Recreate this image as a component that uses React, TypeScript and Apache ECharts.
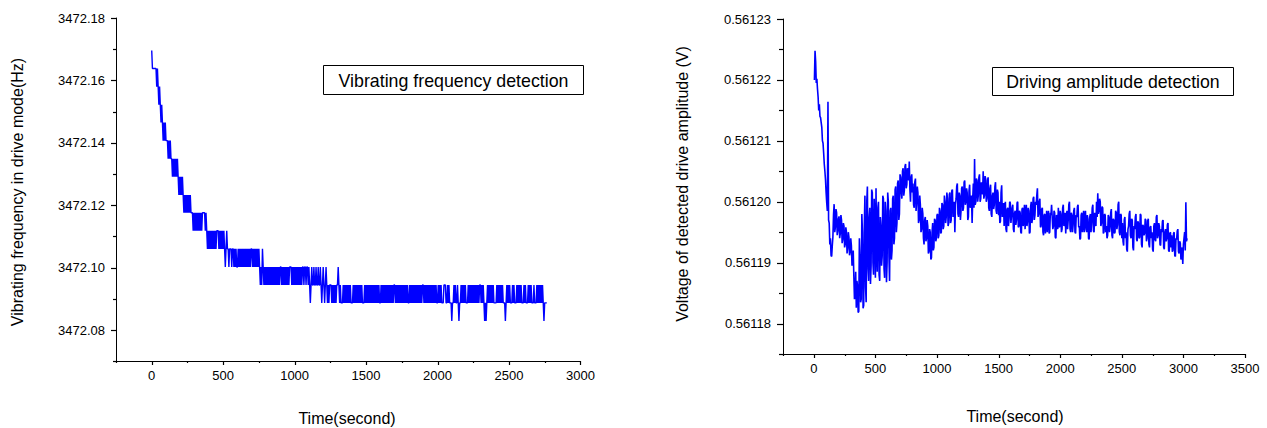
import React, { useEffect, useRef } from "react";
import * as echarts from "echarts";

// ---------- Left chart: vibrating frequency (quantized levels, Hz) ----------
const FREQ_LEVELS = [
  3472.1696, 3472.1638, 3472.158, 3472.1522, 3472.1465, 3472.1407, 3472.1349, 3472.1291,
  3472.1233, 3472.1176, 3472.1118, 3472.106, 3472.1002, 3472.0944, 3472.0887, 3472.0829,
];
const FREQ_STEP_S = 5;
// [block start time (s), level index per sample (hex), one sample every 5 s]
const FREQ_BLOCKS: [number, string][] = [
  [0, "0111111212 3234345454"],
  [100, "5556565667 6767676787"],
  [200, "8787898989 89898999a9"],
  [300, "a9a9a9a9a9 a9999a9aba"],
  [400, "bababababa baaabababa"],
  [500, "babcbabbcb bbcbbcbcbc"],
  [600, "cbcbcbcbcb cbcbcbcbcb"],
  [700, "bcbcbcbcbc bcdcdbcdcd"],
  [800, "cdcdcdcdcd cdcdcdcdcd"],
  [900, "ccdcdcdcdc dcdcccdcdc"],
  [1000, "dcdcdcdcdc dccdccdccd"],
  [1100, "cdedcddcdd cddcddcded"],
  [1200, "cdedcdeded ddedededed"],
  [1300, "dcdedeeede dedededede"],
  [1400, "eedededede dededeeede"],
  [1500, "dedededede dedededede"],
  [1600, "ededededed ededededed"],
  [1700, "dedededede dedededede"],
  [1800, "ededededed ededededed"],
  [1900, "dedededede dedededede"],
  [2000, "edededeeed ddeededeee"],
  [2100, "feededeede feedededed"],
  [2200, "eeedededed ededededed"],
  [2300, "dededefefe dedededede"],
  [2400, "eeedededed edeeefeded"],
  [2500, "edeeededee ededededee"],
  [2600, "ededeeeded edeeedeeed"],
  [2700, "ededededef eeee"],
];

// ---------- Right chart: drive amplitude (V) ----------
const AMP_BASE = 0.56118;
const AMP_UNIT = 1e-7; // values below are in units of 0.1 µV above AMP_BASE
const AMP_STEP_S = 5;
// [block start time (s), one value every 5 s]
const AMP_BLOCKS: [number, number[]][] = [
  [5, [400, 448, 430, 395, 402, 385, 372, 350, 360, 340, 338, 330, 322, 300, 296, 280, 262, 250, 236, 215]],
  [105, [198, 185, 364, 170, 165, 130, 140, 112, 110, 128, 142, 178, 196, 150, 158, 188, 182, 145, 152, 172]],
  [205, [176, 140, 148, 178, 170, 132, 138, 165, 160, 125, 130, 158, 150, 115, 124, 150, 142, 112, 118, 140]],
  [305, [128, 95, 100, 120, 78, 40, 48, 85, 26, 70, 62, 18, 20, 140, 110, 35, 40, 180, 150, 25]],
  [405, [30, 160, 210, 60, 35, 200, 225, 90, 70, 175, 190, 65, 95, 220, 215, 100, 80, 205, 170, 75]],
  [505, [222, 120, 85, 190, 200, 80, 70, 175, 160, 95, 110, 210, 205, 90, 75, 200, 185, 68, 100, 215]],
  [605, [200, 110, 70, 185, 190, 105, 120, 205, 210, 130, 140, 220, 225, 150, 165, 230, 235, 170, 180, 245]],
  [705, [240, 215, 205, 250, 255, 210, 218, 258, 262, 222, 228, 255, 250, 235, 266, 220, 200, 240, 245, 215]],
  [805, [230, 195, 190, 232, 238, 185, 200, 225, 215, 165, 170, 210, 195, 150, 155, 190, 180, 140, 130, 170]],
  [905, [175, 135, 140, 170, 160, 115, 118, 155, 150, 105, 108, 150, 165, 120, 125, 172, 170, 135, 140, 178]],
  [1005, [180, 140, 145, 190, 185, 148, 150, 198, 195, 155, 160, 210, 200, 165, 175, 215, 205, 160, 165, 212]],
  [1105, [215, 165, 170, 218, 220, 175, 180, 200, 150, 195, 205, 225, 230, 180, 175, 215, 210, 170, 185, 222]],
  [1205, [225, 185, 190, 232, 235, 195, 200, 222, 215, 170, 175, 218, 228, 190, 195, 210, 165, 205, 230, 190]],
  [1305, [270, 195, 200, 238, 235, 200, 210, 240, 245, 200, 205, 232, 228, 212, 250, 205, 210, 242, 238, 200]],
  [1405, [205, 235, 240, 190, 185, 222, 228, 180, 175, 210, 215, 188, 195, 225, 232, 185, 180, 220, 215, 178]],
  [1505, [200, 165, 168, 215, 227, 175, 180, 198, 160, 192, 200, 155, 150, 188, 190, 160, 172, 200, 198, 165]],
  [1605, [165, 190, 195, 155, 150, 182, 185, 162, 170, 198, 200, 158, 160, 185, 182, 150, 148, 188, 190, 160]],
  [1705, [175, 195, 155, 180, 195, 160, 168, 190, 185, 148, 150, 192, 200, 165, 172, 205, 208, 170, 178, 200]],
  [1805, [195, 210, 222, 175, 180, 200, 205, 158, 160, 188, 190, 150, 145, 178, 180, 148, 165, 185, 150, 172]],
  [1905, [185, 148, 150, 182, 178, 195, 195, 155, 160, 185, 182, 142, 140, 178, 175, 155, 190, 160, 158, 185]],
  [2005, [180, 150, 155, 190, 195, 160, 165, 182, 148, 175, 185, 155, 170, 195, 200, 155, 150, 182, 178, 150]],
  [2105, [162, 185, 190, 150, 148, 178, 175, 192, 195, 158, 160, 138, 140, 178, 182, 150, 168, 185, 150, 175]],
  [2205, [185, 155, 150, 178, 172, 140, 138, 175, 180, 150, 165, 190, 195, 152, 150, 182, 178, 160, 200, 175]],
  [2305, [214, 180, 185, 205, 200, 160, 165, 192, 190, 148, 150, 180, 178, 150, 160, 140, 145, 178, 175, 150]],
  [2405, [158, 182, 188, 145, 140, 172, 170, 148, 150, 185, 182, 155, 162, 195, 200, 150, 145, 180, 178, 140]],
  [2505, [165, 135, 128, 170, 175, 140, 150, 122, 118, 155, 160, 180, 185, 145, 140, 172, 170, 125, 120, 160]],
  [2605, [155, 175, 180, 138, 135, 168, 165, 140, 142, 180, 178, 130, 125, 162, 160, 145, 148, 172, 170, 135]],
  [2705, [140, 168, 172, 130, 125, 158, 160, 140, 150, 122, 118, 160, 165, 138, 135, 175, 178, 140, 145, 165]],
  [2805, [160, 130, 128, 155, 150, 168, 170, 125, 122, 150, 155, 135, 140, 162, 165, 120, 118, 148, 150, 125]],
  [2905, [145, 118, 120, 148, 150, 112, 110, 140, 138, 152, 155, 118, 115, 135, 132, 105, 108, 125, 98, 130]],
  [3005, [130, 150, 120, 199, 135, 140]],
];

// ---------- Axis ranges / ticks ----------
const X_LEFT_RANGE: [number, number] = [-250, 3000];
const X_RIGHT_RANGE: [number, number] = [-250, 3500];
const X_LEFT_MAJOR = [0, 500, 1000, 1500, 2000, 2500, 3000];
const X_LEFT_MINOR = [-250, 250, 750, 1250, 1750, 2250, 2750];
const X_RIGHT_MAJOR = [0, 500, 1000, 1500, 2000, 2500, 3000, 3500];
const X_RIGHT_MINOR = [-250, 250, 750, 1250, 1750, 2250, 2750, 3250];
const Y_LEFT_RANGE: [number, number] = [3472.07, 3472.18];
const Y_LEFT_MAJOR = [3472.08, 3472.1, 3472.12, 3472.14, 3472.16, 3472.18];
const Y_LEFT_MINOR = [3472.07, 3472.09, 3472.11, 3472.13, 3472.15, 3472.17];
const Y_RIGHT_RANGE: [number, number] = [0.561175, 0.56123];
const Y_RIGHT_MAJOR = [0.56118, 0.56119, 0.5612, 0.56121, 0.56122, 0.56123];
const Y_RIGHT_MINOR = [0.561175, 0.561185, 0.561195, 0.561205, 0.561215, 0.561225];
const X_LABEL_STEP = 500;
const Y_LEFT_LABEL_STEP = 0.02;
const Y_RIGHT_LABEL_STEP = 0.00001;

const TITLE_LEFT = "Vibrating frequency detection";
const TITLE_RIGHT = "Driving amplitude detection";
const X_NAME = "Time(second)";
const Y_NAME_LEFT = "Vibrating frequency in drive mode(Hz)";
const Y_NAME_RIGHT = "Voltage of detected drive amplitude (V)";

const FONT = "'Liberation Sans', Arial, Helvetica, sans-serif";
const blk = "#000";

function buildFreq(): [number, number][] {
  const out: [number, number][] = [];
  FREQ_BLOCKS.forEach(([start, codes]) => {
    const s = codes.replace(/\s/g, "");
    for (let j = 0; j < s.length; j++) {
      out.push([start + j * FREQ_STEP_S, FREQ_LEVELS[parseInt(s[j], 16)]]);
    }
  });
  return out;
}

function buildAmp(): [number, number][] {
  const out: [number, number][] = [];
  AMP_BLOCKS.forEach(([start, vals]) => {
    vals.forEach((u, j) => out.push([start + j * AMP_STEP_S, AMP_BASE + u * AMP_UNIT]));
  });
  return out;
}

// Layout of the two plot areas
const L = { left: 116, top: 18, width: 464.4, height: 343.2 };
const R = { left: 783, top: 19, width: 462, height: 335 };

function px(range: [number, number], size: number, v: number) {
  return ((v - range[0]) / (range[1] - range[0])) * size;
}

// label-only overlay grids, starting at the first labelled value
const LO = {
  left: L.left + px(X_LEFT_RANGE, L.width, X_LEFT_MAJOR[0]),
  top: L.top,
  width: L.width - px(X_LEFT_RANGE, L.width, X_LEFT_MAJOR[0]),
  height: L.height - px(Y_LEFT_RANGE, L.height, Y_LEFT_MAJOR[0]),
};
const RO = {
  left: R.left + px(X_RIGHT_RANGE, R.width, X_RIGHT_MAJOR[0]),
  top: R.top,
  width: R.width - px(X_RIGHT_RANGE, R.width, X_RIGHT_MAJOR[0]),
  height: R.height - px(Y_RIGHT_RANGE, R.height, Y_RIGHT_MAJOR[0]),
};

function dataX(grid: number, range: [number, number]) {
  return {
    gridIndex: grid,
    type: "value",
    min: range[0],
    max: range[1],
    position: "bottom",
    axisLine: { show: true, onZero: false, lineStyle: { color: blk, width: 1 } },
    axisTick: { show: false },
    axisLabel: { show: false },
    splitLine: { show: false },
  };
}
function dataY(grid: number, range: [number, number]) {
  return {
    gridIndex: grid,
    type: "value",
    min: range[0],
    max: range[1],
    position: "left",
    axisLine: { show: true, onZero: false, lineStyle: { color: blk, width: 1 } },
    axisTick: { show: false },
    axisLabel: { show: false },
    splitLine: { show: false },
  };
}
function labelX(grid: number, min: number, max: number, offset: number) {
  return {
    gridIndex: grid,
    type: "value",
    min,
    max,
    interval: X_LABEL_STEP,
    position: "bottom",
    offset,
    axisLine: { show: false, onZero: false },
    axisTick: { show: false },
    axisLabel: {
      show: true,
      formatter: (v: number) => String(Math.round(v)),
      fontSize: 13,
      fontFamily: FONT,
      color: blk,
      margin: 8,
    },
    splitLine: { show: false },
  };
}
function labelY(grid: number, min: number, max: number, interval: number, offset: number, dec: number, margin: number) {
  return {
    gridIndex: grid,
    type: "value",
    min,
    max,
    interval,
    position: "left",
    offset,
    axisLine: { show: false, onZero: false },
    axisTick: { show: false },
    axisLabel: {
      show: true,
      formatter: (v: number) => v.toFixed(dec),
      fontSize: 13,
      fontFamily: FONT,
      color: blk,
      margin,
    },
    splitLine: { show: false },
  };
}

// tick marks drawn through the axes' own scales
function xTicks(axis: number, values: number[], yAt: number, len: number) {
  return {
    type: "custom",
    coordinateSystem: "cartesian2d",
    xAxisIndex: axis,
    yAxisIndex: axis,
    clip: false,
    silent: true,
    z: 5,
    data: values.map((v) => [v, yAt]),
    renderItem: (_p: any, api: any) => {
      const p = api.coord([api.value(0), api.value(1)]);
      const x = Math.round(p[0]) + 0.5;
      const y = Math.round(p[1]);
      return { type: "line", shape: { x1: x, y1: y, x2: x, y2: y + len }, style: { stroke: blk, lineWidth: 1.2 } };
    },
  };
}
function yTicks(axis: number, values: number[], xAt: number, len: number) {
  return {
    type: "custom",
    coordinateSystem: "cartesian2d",
    xAxisIndex: axis,
    yAxisIndex: axis,
    clip: false,
    silent: true,
    z: 5,
    data: values.map((v) => [xAt, v]),
    renderItem: (_p: any, api: any) => {
      const p = api.coord([api.value(0), api.value(1)]);
      const y = Math.round(p[1]) + 0.5;
      const x = Math.round(p[0]);
      return { type: "line", shape: { x1: x - len, y1: y, x2: x, y2: y }, style: { stroke: blk, lineWidth: 1.2 } };
    },
  };
}

function textEl(text: string, x: number, y: number, size: number, rotation = 0) {
  return {
    type: "text",
    x,
    y,
    rotation,
    silent: true,
    style: {
      text,
      fill: blk,
      fontSize: size,
      fontFamily: FONT,
      align: "center",
      verticalAlign: "middle",
      textAlign: "center",
      textVerticalAlign: "middle",
    },
  };
}

export default function App() {
  const ref = useRef<HTMLDivElement>(null);
  useEffect(() => {
    if (!ref.current) return;
    const chart = echarts.init(ref.current, null, { renderer: "svg" });
    const option: any = {
      animation: false,
      backgroundColor: "#fff",
      grid: [L, LO, R, RO],
      xAxis: [
        dataX(0, X_LEFT_RANGE),
        labelX(1, X_LEFT_MAJOR[0], X_LEFT_RANGE[1], L.height - LO.height),
        dataX(2, X_RIGHT_RANGE),
        labelX(3, X_RIGHT_MAJOR[0], X_RIGHT_RANGE[1], R.height - RO.height),
      ],
      yAxis: [
        dataY(0, Y_LEFT_RANGE),
        labelY(1, Y_LEFT_MAJOR[0], Y_LEFT_RANGE[1], Y_LEFT_LABEL_STEP, LO.left - L.left, 2, 11),
        dataY(2, Y_RIGHT_RANGE),
        labelY(3, Y_RIGHT_MAJOR[0], Y_RIGHT_RANGE[1], Y_RIGHT_LABEL_STEP, RO.left - R.left, 5, 12),
      ],
      series: [
        {
          type: "line",
          xAxisIndex: 0,
          yAxisIndex: 0,
          data: buildFreq(),
          showSymbol: false,
          symbol: "none",
          silent: true,
          lineStyle: { color: "#0000ff", width: 1.4 },
        },
        {
          type: "line",
          xAxisIndex: 2,
          yAxisIndex: 2,
          data: buildAmp(),
          showSymbol: false,
          symbol: "none",
          silent: true,
          lineStyle: { color: "#0000ff", width: 1.6 },
        },
        xTicks(0, X_LEFT_MAJOR, Y_LEFT_RANGE[0], 4),
        xTicks(0, X_LEFT_MINOR, Y_LEFT_RANGE[0], 2),
        yTicks(0, Y_LEFT_MAJOR, X_LEFT_RANGE[0], 5),
        yTicks(0, Y_LEFT_MINOR, X_LEFT_RANGE[0], 3),
        xTicks(2, X_RIGHT_MAJOR, Y_RIGHT_RANGE[0], 4),
        xTicks(2, X_RIGHT_MINOR, Y_RIGHT_RANGE[0], 2),
        yTicks(2, Y_RIGHT_MAJOR, X_RIGHT_RANGE[0], 6),
        yTicks(2, Y_RIGHT_MINOR, X_RIGHT_RANGE[0], 4),
      ],
      graphic: [
        {
          type: "rect",
          silent: true,
          shape: { x: 323.5, y: 65.5, width: 260, height: 29 },
          style: { fill: "#fff", stroke: blk, lineWidth: 1 },
        },
        textEl(TITLE_LEFT, 453.5, 80.5, 17.8),
        {
          type: "rect",
          silent: true,
          shape: { x: 992.5, y: 67.5, width: 241, height: 28 },
          style: { fill: "#fff", stroke: blk, lineWidth: 1 },
        },
        textEl(TITLE_RIGHT, 1113, 81.5, 17.7),
        textEl(X_NAME, 347, 418.5, 16),
        textEl(X_NAME, 1015, 416.8, 16),
        textEl(Y_NAME_LEFT, 17.5, 192, 16, Math.PI / 2),
        textEl(Y_NAME_RIGHT, 682.6, 184, 16, Math.PI / 2),
      ],
    };
    chart.setOption(option);
    return () => chart.dispose();
  }, []);
  return (
    <div
      ref={ref}
      style={{ position: "absolute", left: 0, top: 0, width: 1267, height: 428, background: "#fff" }}
    />
  );
}
